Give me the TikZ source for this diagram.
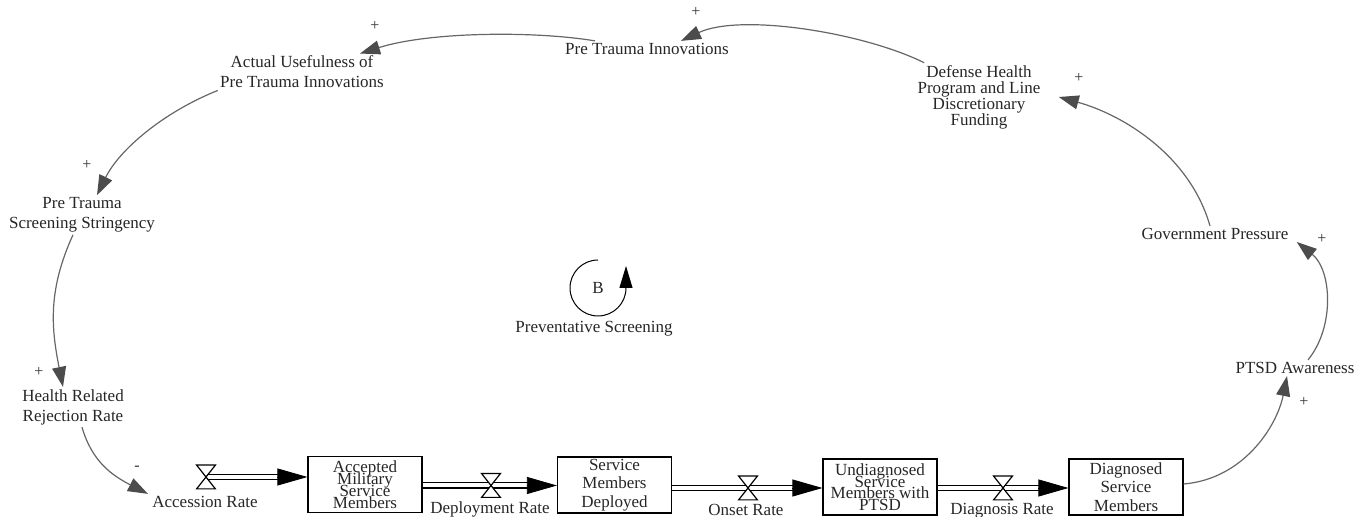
\documentclass[tikz,border=0pt]{standalone}
\usepackage{fontspec}
\setmainfont{Liberation Serif}
\usetikzlibrary{calc, arrows.meta, positioning}

\newcommand\squeezelines{\lineskiplimit-20pt\relax}

\tikzset{
  var/.style={font=\fontsize{8.5}{10}\selectfont, align=center, inner sep=1pt, text=black!85},
  stock/.style={draw, line width=0.6pt, minimum width=57pt, minimum height=28pt, inner sep=0pt,
    align=center, text=black!85, font=\fontsize{8.5}{9.3}\selectfont\squeezelines},
  valve/.style={inner sep=0pt, minimum width=9pt, minimum height=11.5pt},
  pipe/.style={double distance=2pt, line width=0.7pt, shorten >=10pt},
  flowtip/.style={-{Triangle[length=15pt,width=8.5pt]}},
  link/.style={draw=black!60, line width=0.6pt, -{Triangle[length=10pt,width=7pt,color=black!70]}},
  pol/.style={font=\fontsize{8}{8}\selectfont, inner sep=0pt, text=black!80},
}

\begin{document}
\begin{tikzpicture}[x=0.5pt, y=-0.5pt]
  \useasboundingbox (0,0) rectangle (1367,517);

  % auxiliaries
  \node[var] (hrr) at (73,407) {Health Related\\Rejection Rate};
  \node[var] (pts) at (82,215) {Pre Trauma\\Screening Stringency};
  \node[var] (auf) at (302,72) {Actual Usefulness of\\Pre Trauma Innovations};
  \node[var] (pti) at (647,49) {Pre Trauma Innovations};
  \node[var, font=\fontsize{8.5}{8}\selectfont\squeezelines] (dhp) at (979,97)
    {Defense Health\\Program and Line\\Discretionary\\Funding};
  \node[var] (gp) at (1215,234) {Government Pressure};
  \node[var] (pa) at (1295,368) {PTSD Awareness};

  % stocks
  \node[stock, font=\fontsize{8.5}{6}\selectfont\squeezelines] (amsm) at (365,484.5)
    {Accepted\\Military\\Service\\Members};
  \node[stock] (smd) at (614.5,485) {Service\\Members\\Deployed};
  \node[stock, font=\fontsize{8.5}{5.8}\selectfont\squeezelines] (usmp) at (880,487)
    {Undiagnosed\\Service\\Members with\\PTSD};
  \node[stock] (dsm) at (1126,487) {Diagnosed\\Service\\Members};

  % flows
  \node[valve] (av) at (206,477) {};
  \node[valve] (dv) at (491,485.5) {};
  \node[valve] (ov) at (748,488) {};
  \node[valve] (gv) at (1003,488) {};
  \node[var] (acc) at (205,502) {Accession Rate};
  \node[var] (depl) at (490,509) {Deployment Rate};
  \node[var] (onsl) at (746,510) {Onset Rate};
  \node[var] (diagl) at (1002,511) {Diagnosis Rate};

  \coordinate (ain) at (amsm.west |- av);
  \coordinate (dout) at (amsm.east |- dv);
  \coordinate (din) at (smd.west |- dv);
  \coordinate (oout) at (smd.east |- ov);
  \coordinate (oin) at (usmp.west |- ov);
  \coordinate (gout) at (usmp.east |- gv);
  \coordinate (gin) at (dsm.west |- gv);

  \draw[pipe] (av.center) -- (ain);
  \draw[pipe] (dout) -- (din);
  \draw[pipe] (oout) -- (oin);
  \draw[pipe] (gout) -- (gin);
  \foreach \n in {ain,din,oin,gin}
    \draw[flowtip] ([xshift=-15pt]\n) -- (\n);
  \foreach \v in {av,dv,ov,gv}
    \draw[fill=white, line width=0.6pt] (\v.north west) -- (\v.north east)
      -- (\v.south west) -- (\v.south east) -- cycle;

  % causal links
  \draw[link] ([xshift=4.5pt]hrr.south) .. controls +(10,35) and +(-35,-18) .. ([xshift=-1pt]acc.north west);
  \draw[link] ([xshift=-4.5pt]pts.south) .. controls +(-25,55) and +(-12,-60) .. ([xshift=-5pt]hrr.north);
  \draw[link] (auf.south west) .. controls +(-55,22) and +(22,-45) .. ([xshift=7.5pt]pts.north);
  \draw[link] ([xshift=-26pt]pti.north) .. controls +(-60,-10) and +(70,-22) .. ([xshift=29pt]auf.north);
  \draw[link] ([xshift=4.5pt]dhp.north west) .. controls +(-60,-30) and +(60,-28) .. ([xshift=17pt]pti.north);
  \draw[link] ([xshift=-2.5pt]gp.north) .. controls +(-20,-70) and +(65,18) .. ([xshift=8pt]dhp.east);
  \draw[link] ([xshift=6.5pt]pa.north) .. controls +(27,-33) and +(35,28) .. ([xshift=3pt,yshift=-4pt]gp.east);
  \draw[link] ([yshift=1.5pt]dsm.east) .. controls +(60,-5) and +(-10,50) .. ([xshift=-4pt]pa.south);

  \node[pol] (p1) at (137,468) {-};
  \node[pol] (p2) at (39,372) {+};
  \node[pol] (p3) at (87,165) {+};
  \node[pol] (p4) at (375,26) {+};
  \node[pol] (p5) at (696,12) {+};
  \node[pol] (p6) at (1079,78) {+};
  \node[pol] (p7) at (1322,239) {+};
  \node[pol] (p8) at (1304,402) {+};

  % loop
  \node[var] (lb) at (598,288) {B};
  \node[var] (ln) at (594,329) {Preventative Screening};
  \draw[line width=0.5pt, -{Triangle[length=11pt,width=6.5pt]}] ([yshift=14pt]lb.center)
    arc[start angle=90, end angle=360, radius=14pt] -- ++(0,-22);
\end{tikzpicture}
\end{document}
